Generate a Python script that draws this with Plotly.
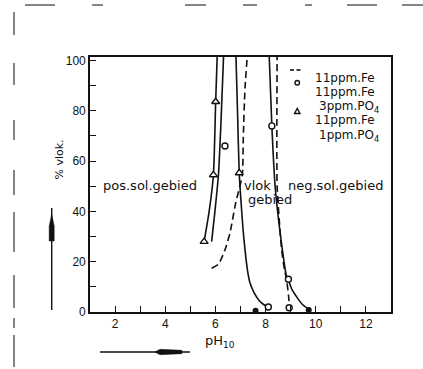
import plotly.graph_objects as go

# ---- data (pH, % vlok) ----
fe_rise_ph  = [5.85, 6.12, 6.38, 6.58, 6.80, 7.07, 7.11, 7.18, 7.28]
fe_rise_pct = [17.4, 19.0, 24.7, 31.4, 43.0, 54.5, 69.0, 89.0, 103]
fe_fall_ph  = [8.46, 8.45, 8.46, 8.55, 8.64, 8.75, 8.84, 8.92, 8.95]
fe_fall_pct = [103, 75, 50, 36, 24.7, 17, 12.7, 6, 2]

p3_rise_ph  = [5.85, 5.98, 6.12, 6.22, 6.33]
p3_rise_pct = [28, 40, 54.5, 75, 103]
p3_fall_ph  = [8.14, 8.25, 8.38, 8.6, 8.84, 8.91, 9.05, 9.24, 9.45, 9.7]
p3_fall_pct = [103, 74, 50, 30, 14, 12.7, 9, 6, 3.2, 1.2]

p1_rise_ph  = [5.55, 5.75, 5.92, 6.01, 6.075]
p1_rise_pct = [28, 40, 54.5, 83.6, 103]
p1_fall_ph  = [6.815, 6.88, 6.95, 7.02, 7.1, 7.18, 7.28, 7.38, 7.55, 7.75, 7.95, 8.11]
p1_fall_pct = [103, 80, 55, 44, 33, 24.7, 16.5, 11.5, 7.5, 4.5, 2.8, 2]

circle_ph  = [6.38, 8.25, 8.91, 8.11, 8.94]
circle_pct = [66, 74, 13, 2, 1.7]
tri_ph     = [5.55, 5.92, 6.01, 6.95]
tri_pct    = [28, 54.5, 83.6, 55.3]
dot_ph     = [7.6, 9.72]
dot_pct    = [0.5, 0.8]

x_tickvals = [2, 4, 6, 8, 10, 12]
y_tickvals = [0, 20, 40, 60, 80, 100]

legend_rows = [("11ppm.Fe", 69), ("11ppm.Fe", 83), ("3ppm.PO<sub>4</sub>", 97),
               ("11ppm.Fe", 111), ("1ppm.PO<sub>4</sub>", 126)]

# ---- layout geometry (pixels) ----
W, H = 423, 369
L, R, T, B = 90, 32, 57, 57
PW, PH = W - L - R, H - T - B


def px(xp):
    return (xp - L) / PW


def py(yp):
    return (H - B - yp) / PH


BLACK = "#111111"
FONT = "DejaVu Sans, Liberation Sans, Arial, sans-serif"

fig = go.Figure()

solid = dict(color=BLACK, width=1.6)
dashed = dict(color=BLACK, width=1.6, dash="7px,4px")

for xs, ys, ln in [(fe_rise_ph, fe_rise_pct, dashed), (fe_fall_ph, fe_fall_pct, dashed),
                   (p3_rise_ph, p3_rise_pct, solid), (p3_fall_ph, p3_fall_pct, solid),
                   (p1_rise_ph, p1_rise_pct, solid), (p1_fall_ph, p1_fall_pct, solid)]:
    fig.add_trace(go.Scatter(x=xs, y=ys, mode="lines",
                             line=dict(shape="spline", smoothing=0.6, **ln),
                             showlegend=False, hoverinfo="skip"))

fig.add_trace(go.Scatter(x=circle_ph, y=circle_pct, mode="markers",
                         marker=dict(symbol="circle", size=6, color="white",
                                     line=dict(color=BLACK, width=1.4)),
                         showlegend=False, cliponaxis=False))
fig.add_trace(go.Scatter(x=tri_ph, y=tri_pct, mode="markers",
                         marker=dict(symbol="triangle-up", size=7, color="white",
                                     line=dict(color=BLACK, width=1.4)),
                         showlegend=False, cliponaxis=False))
fig.add_trace(go.Scatter(x=dot_ph, y=dot_pct, mode="markers",
                         marker=dict(symbol="circle", size=6, color=BLACK),
                         showlegend=False, cliponaxis=False))

ann = []
# region labels
ann.append(dict(x=3.4, y=50.3, text="pos.sol.gebied", showarrow=False,
                xref="x", yref="y", font=dict(size=13, family=FONT, color=BLACK)))
ann.append(dict(x=7.05, y=50.3, text="vlok", showarrow=False, xanchor="left",
                xref="x", yref="y", font=dict(size=13, family=FONT, color=BLACK)))
ann.append(dict(x=7.2, y=44.8, text="gebied", showarrow=False, xanchor="left",
                xref="x", yref="y", font=dict(size=13, family=FONT, color=BLACK)))
ann.append(dict(x=10.77, y=50.3, text="neg.sol.gebied", showarrow=False,
                xref="x", yref="y", font=dict(size=13, family=FONT, color=BLACK)))

# legend text
for i, (txt, yy) in enumerate(legend_rows):
    xl = 313 if i in (0, 1, 3) else 317
    ann.append(dict(x=px(xl), y=py(yy), text=txt, showarrow=False, xanchor="left",
                    xref="paper", yref="paper",
                    font=dict(size=12, family=FONT, color=BLACK)))

# axis titles
ann.append(dict(x=px(203), y=py(352), text="pH<sub>10</sub>", showarrow=False,
                xanchor="left", xref="paper", yref="paper",
                font=dict(size=13, family=FONT, color=BLACK)))
ann.append(dict(x=px(50), y=py(160), text="% vlok.", showarrow=False, textangle=-90,
                xref="paper", yref="paper",
                font=dict(size=11, family=FONT, color=BLACK)))

shapes = []
# legend symbols
shapes.append(dict(type="line", xref="paper", yref="paper", x0=px(290), x1=px(294),
                   y0=py(70), y1=py(70), line=dict(color=BLACK, width=1.6)))
shapes.append(dict(type="line", xref="paper", yref="paper", x0=px(296.5), x1=px(300.5),
                   y0=py(70), y1=py(70), line=dict(color=BLACK, width=1.6)))
shapes.append(dict(type="circle", xref="paper", yref="paper", x0=px(295), x1=px(299.5),
                   y0=py(80.5), y1=py(85), line=dict(color=BLACK, width=1.4)))
shapes.append(dict(type="path", xref="paper", yref="paper",
                   path=f"M {px(294.5)} {py(113.5)} L {px(300)} {py(113.5)} L {px(297.25)} {py(108.5)} Z",
                   line=dict(color=BLACK, width=1.4)))

# arrows next to axis titles
shapes.append(dict(type="line", xref="paper", yref="paper", x0=px(51.7), x1=px(51.7),
                   y0=py(310), y1=py(208), line=dict(color=BLACK, width=1.4)))
shapes.append(dict(type="path", xref="paper", yref="paper",
                   path=(f"M {px(51.7)} {py(214)} L {px(54.2)} {py(226)} L {px(54.2)} {py(241)} "
                         f"L {px(49.2)} {py(241)} L {px(49.2)} {py(226)} Z"),
                   fillcolor=BLACK, line=dict(color=BLACK, width=0.5)))
shapes.append(dict(type="line", xref="paper", yref="paper", x0=px(100), x1=px(190),
                   y0=py(352), y1=py(352), line=dict(color=BLACK, width=1.4)))
shapes.append(dict(type="path", xref="paper", yref="paper",
                   path=(f"M {px(155)} {py(352)} L {px(160)} {py(349.3)} L {px(182)} {py(350.3)} "
                         f"L {px(182)} {py(353.7)} L {px(160)} {py(354.7)} Z"),
                   fillcolor=BLACK, line=dict(color=BLACK, width=0.5)))

# scan border marks
for x0, x1 in [(25, 55), (92, 103), (185, 206), (243, 257), (305, 312), (347, 377), (402, 423)]:
    shapes.append(dict(type="line", xref="paper", yref="paper", x0=px(x0), x1=px(x1),
                       y0=py(5), y1=py(5), line=dict(color="#333333", width=1.2)))
for y0, y1 in [(12, 35), (63, 85), (120, 140), (170, 195), (212, 252), (275, 308),
               (318, 328), (335, 367)]:
    shapes.append(dict(type="line", xref="paper", yref="paper", x0=px(14), x1=px(14),
                       y0=py(y0), y1=py(y1), line=dict(color="#333333", width=1.2)))

axis_common = dict(showgrid=False, zeroline=False, showline=True, linecolor=BLACK,
                   linewidth=1.6, mirror=True, ticks="inside", tickcolor=BLACK,
                   tickwidth=1.2, ticklen=6,
                   tickfont=dict(size=12, family="Liberation Sans, Arial", color=BLACK))

fig.update_layout(
    width=W, height=H,
    margin=dict(l=L, r=R, t=T, b=B, pad=0),
    paper_bgcolor="white", plot_bgcolor="white",
    xaxis=dict(range=[1, 13], tickmode="array", tickvals=x_tickvals,
               minor=dict(ticks="inside", dtick=1, tick0=1, ticklen=6, tickwidth=1.2,
                          tickcolor=BLACK, showgrid=False),
               **axis_common),
    yaxis=dict(range=[0, 101.4], tickmode="array", tickvals=y_tickvals,
               minor=dict(ticks="inside", dtick=10, tick0=0, ticklen=6, tickwidth=1.2,
                          tickcolor=BLACK, showgrid=False),
               **axis_common),
    annotations=ann, shapes=shapes, showlegend=False,
)

fig.write_html("out.html")
